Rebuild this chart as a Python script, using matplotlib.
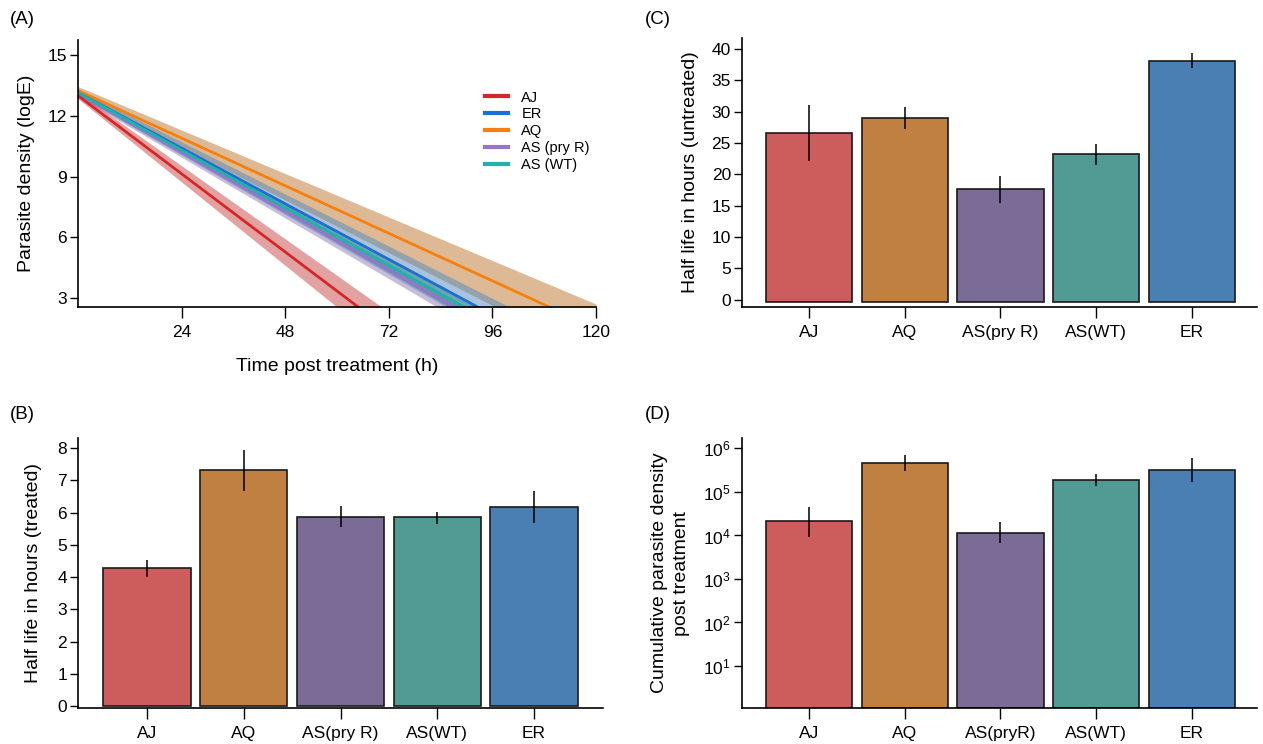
import numpy as np
import matplotlib
matplotlib.use("Agg")
import matplotlib.pyplot as plt

plt.rcParams['font.family'] = ['Liberation Sans', 'DejaVu Sans']
plt.rcParams['mathtext.fontset'] = 'custom'
plt.rcParams['mathtext.rm'] = 'Liberation Sans'
plt.rcParams['mathtext.it'] = 'Liberation Sans'
plt.rcParams['mathtext.default'] = 'regular'

# ---------------- Panel A data ----------------
groups_A = ['AJ', 'ER', 'AQ', 'AS (pry R)', 'AS (WT)']
line_colors_A = ['#D62728', '#1F6FD0', '#F5800F', '#9575CD', '#20B2AA']
band_colors_A = ['#C94747', '#5189BD', '#BD772D', '#917DB9', '#2E8B8B']
start_A = [13.0, 13.15, 13.25, 13.1, 13.15]          # logE at t = 0
rate_A = [0.161, 0.1145, 0.098, 0.121, 0.1185]        # decline per hour
band_hi_start = [13.15, 13.3, 13.45, 13.2, 13.25]
band_hi_rate = [0.1506, 0.1075, 0.0896, 0.1183, 0.1155]
band_lo_start = [12.85, 13.0, 13.05, 12.95, 13.05]
band_lo_rate = [0.1717, 0.1225, 0.1085, 0.125, 0.122]
time_span = [0, 120]
xticks_A = [24, 48, 72, 96, 120]
yticks_A = [3, 6, 9, 12, 15]

# ---------------- Bar panels data ----------------
bar_colors = ['#CD5C5C', '#BF8041', '#7A6C96', '#529B94', '#4A7FB3']

cats_B = ['AJ', 'AQ', 'AS(pry R)', 'AS(WT)', 'ER']
vals_B = [4.28, 7.31, 5.87, 5.85, 6.18]
lo_B = [4.02, 6.67, 5.54, 5.66, 5.69]
hi_B = [4.53, 7.95, 6.21, 6.01, 6.67]

cats_C = ['AJ', 'AQ', 'AS(pry R)', 'AS(WT)', 'ER']
vals_C = [26.6, 29.0, 17.6, 23.2, 38.1]
lo_C = [22.1, 27.2, 15.5, 21.5, 37.0]
hi_C = [31.0, 30.8, 19.7, 24.9, 39.3]

cats_D = ['AJ', 'AQ', 'AS(pryR)', 'AS(WT)', 'ER']
vals_D = [2.1e4, 4.7e5, 1.15e4, 1.87e5, 3.2e5]
lo_D = [9.3e3, 3.1e5, 6.7e3, 1.35e5, 1.7e5]
hi_D = [4.6e4, 7.0e5, 2.0e4, 2.6e5, 6.1e5]

W, H = 1263, 744
fig = plt.figure(figsize=(W / 100, H / 100), dpi=100)


def px_axes(l, r, t, b):
    return fig.add_axes([l / W, 1 - b / H, (r - l) / W, (b - t) / H])


TICK_FS = 12.5
LAB_FS = 14


def style(ax):
    for s in ['top', 'right']:
        ax.spines[s].set_visible(False)
    for s in ['left', 'bottom']:
        ax.spines[s].set_linewidth(1.2)
    ax.tick_params(axis='y', length=6, width=1, labelsize=TICK_FS, pad=2)
    ax.tick_params(axis='x', length=8, width=1, labelsize=TICK_FS, pad=5)


# ---------------- Panel A ----------------
axA = px_axes(78, 596, 40, 307)
t = np.array(time_span, dtype=float)
order = [2, 1, 3, 4, 0]
for i in order:
    hi = band_hi_start[i] - band_hi_rate[i] * t
    lo = band_lo_start[i] - band_lo_rate[i] * t
    axA.fill_between(t, lo, hi, color=band_colors_A[i], alpha=0.5, lw=0)
for i in order:
    axA.plot(t, start_A[i] - rate_A[i] * t, color=line_colors_A[i], lw=2)
handles = [plt.Line2D([], [], color=c, lw=3) for c in line_colors_A]
axA.legend(handles, groups_A, loc='upper left', bbox_to_anchor=(0.76, 0.86),
           frameon=False, fontsize=10.5, handlelength=1.6, handletextpad=0.9,
           labelspacing=0.2)
axA.set_xlim(0, 120)
axA.set_ylim(2.55, 15.75)
axA.set_xticks(xticks_A)
axA.set_yticks(yticks_A)
style(axA)
axA.set_xlabel('Time post treatment (h)', fontsize=LAB_FS, labelpad=13)
axA.set_ylabel('Parasite density (logE)', fontsize=LAB_FS, labelpad=9)


def bars(ax, cats, vals, lo, hi, bottom):
    x = np.arange(len(cats))
    heights = np.array(vals) - bottom
    ax.bar(x, heights, bottom=bottom, width=0.9, color=bar_colors,
           edgecolor='#1a1a1a', linewidth=1.2, zorder=2)
    ax.vlines(x, lo, hi, color='black', lw=1.1, zorder=3)
    ax.set_xticks(x)
    ax.set_xticklabels(cats)


# ---------------- Panel B ----------------
axB = px_axes(78, 603, 438, 708)
bars(axB, cats_B, vals_B, lo_B, hi_B, 0)
axB.set_xlim(-0.713, 4.713)
axB.set_ylim(-0.05, 8.31)
axB.set_yticks(range(0, 9))
style(axB)
axB.set_ylabel('Half life in hours (treated)', fontsize=LAB_FS, labelpad=11)

# ---------------- Panel C ----------------
axC = px_axes(742, 1257, 38, 307)
bars(axC, cats_C, vals_C, lo_C, hi_C, -0.42)
axC.set_xlim(-0.70, 4.68)
axC.set_ylim(-1.18, 41.76)
axC.set_yticks(range(0, 41, 5))
style(axC)
axC.set_ylabel('Half life in hours (untreated)', fontsize=LAB_FS, labelpad=9)

# ---------------- Panel D ----------------
axD = px_axes(742, 1257, 438, 708)
axD.set_yscale('log')
d_bottom = 10 ** 0.035
bars(axD, cats_D, vals_D, lo_D, hi_D, d_bottom)
axD.set_xlim(-0.70, 4.68)
axD.set_ylim(d_bottom, 10 ** 6.24)
dt = [10 ** k for k in range(1, 7)]
axD.set_yticks(dt)
axD.set_yticklabels([r'$10^{%d}$' % k for k in range(1, 7)])
axD.yaxis.set_minor_locator(matplotlib.ticker.NullLocator())
style(axD)
axD.set_ylabel('Cumulative parasite density\npost treatment', fontsize=LAB_FS,
               labelpad=9, linespacing=1.45)

# panel letters
for lab, (x, y) in {'(A)': (10, 20), '(B)': (10, 415), '(C)': (645, 20),
                    '(D)': (645, 415)}.items():
    fig.text(x / W, 1 - y / H, lab, fontsize=13.5, va='center', ha='left')

fig.savefig('out.png', dpi=100)
